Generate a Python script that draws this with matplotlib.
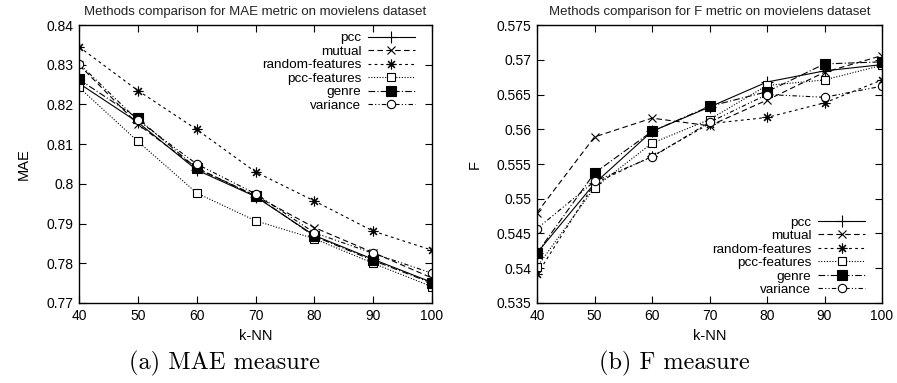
import matplotlib
matplotlib.use("Agg")
import matplotlib.pyplot as plt

knn = [40, 50, 60, 70, 80, 90, 100]
methods = ["pcc", "mutual", "random-features", "pcc-features", "genre", "variance"]

mae_pcc = [0.8253, 0.8155, 0.8035, 0.7968, 0.7870, 0.7810, 0.7752]
mae_mutual = [0.8300, 0.8150, 0.8040, 0.7970, 0.7890, 0.7827, 0.7763]
mae_random = [0.8345, 0.8235, 0.8137, 0.8030, 0.7957, 0.7881, 0.7833]
mae_pccfeat = [0.8243, 0.8107, 0.7977, 0.7907, 0.7862, 0.7800, 0.7741]
mae_genre = [0.8263, 0.8165, 0.8039, 0.7970, 0.7868, 0.7807, 0.7750]
mae_variance = [0.8303, 0.8160, 0.8050, 0.7975, 0.7877, 0.7825, 0.7775]

f_pcc = [0.5422, 0.5522, 0.5597, 0.5632, 0.5668, 0.5684, 0.5693]
f_mutual = [0.5480, 0.5589, 0.5616, 0.5605, 0.5642, 0.5682, 0.5706]
f_random = [0.5391, 0.5522, 0.5561, 0.5608, 0.5617, 0.5638, 0.5671]
f_pccfeat = [0.5402, 0.5516, 0.5580, 0.5614, 0.5663, 0.5671, 0.5692]
f_genre = [0.5422, 0.5537, 0.5597, 0.5633, 0.5654, 0.5694, 0.5697]
f_variance = [0.5457, 0.5525, 0.5560, 0.5610, 0.5650, 0.5646, 0.5662]

mae_series = [mae_pcc, mae_mutual, mae_random, mae_pccfeat, mae_genre, mae_variance]
f_series = [f_pcc, f_mutual, f_random, f_pccfeat, f_genre, f_variance]

# gnuplot-ish line/point styles
styles = [
    dict(ls="-", marker="+", ms=8, mfc="none"),
    dict(ls=(0, (5, 3)), marker="x", ms=6, mfc="none"),
    dict(ls=(0, (2.5, 3)), marker=(8, 2, 0), ms=7, mfc="none"),
    dict(ls=(0, (1, 1.5)), marker="s", ms=6, mfc="white"),
    dict(ls=(0, (6, 2, 1, 2)), marker="s", ms=7, mfc="black"),
    dict(ls=(0, (4, 2, 1, 2, 1, 2)), marker="o", ms=6, mfc="white"),
]

plt.rcParams["font.family"] = ["Liberation Sans", "DejaVu Sans"]

fig = plt.figure(figsize=(8.97, 3.83), dpi=100)
ax1 = fig.add_axes([0.0881, 0.2089, 0.3935, 0.7258])
ax2 = fig.add_axes([0.5987, 0.2089, 0.3846, 0.7258])


def draw(ax, series, ylim, yticks, yfmt, ylabel, title):
    for name, vals, st in zip(methods, series, styles):
        ax.plot(knn, vals, color="black", lw=0.8, mec="black", mew=0.8,
                label=name, **st)
    ax.set_xlim(40, 100)
    ax.set_ylim(*ylim)
    ax.set_xticks(knn)
    ax.set_yticks(yticks)
    ax.set_yticklabels([yfmt(v) for v in yticks])
    ax.tick_params(direction="in", top=True, right=True, length=5,
                   width=0.8, labelsize=10, pad=4)
    for sp in ax.spines.values():
        sp.set_linewidth(1.0)
    ax.set_xlabel("k-NN", fontsize=10.5, labelpad=5)
    ax.set_ylabel(ylabel, fontsize=10.5, labelpad=11)
    ax.set_title(title, fontsize=9.5, pad=7, color="#222222")


def g(v):
    return ("%.3f" % v).rstrip("0").rstrip(".")


draw(ax1, mae_series, (0.77, 0.84), [0.77, 0.78, 0.79, 0.80, 0.81, 0.82, 0.83, 0.84],
     g, "MAE", "Methods comparison for MAE metric on movielens dataset")
draw(ax2, f_series, (0.535, 0.575),
     [0.535, 0.54, 0.545, 0.55, 0.555, 0.56, 0.565, 0.57, 0.575],
     g, "F", "Methods comparison for F metric on movielens dataset")

leg_kw = dict(frameon=False, markerfirst=False, handlelength=3.5,
              labelspacing=0.08, borderpad=0, borderaxespad=0,
              handletextpad=0.5, fontsize=9.7)
ax1.legend(loc="upper right", bbox_to_anchor=(0.952, 0.975), **leg_kw)
ax2.legend(loc="lower right", bbox_to_anchor=(0.951, 0.025), **leg_kw)

fig.text(0.25, 0.052, "(a) MAE measure", ha="center", va="center",
         fontsize=17.5, family="cmr10")
fig.text(0.752, 0.052, "(b) F measure", ha="center", va="center",
         fontsize=17.5, family="cmr10")

fig.savefig("out.png", dpi=100)
